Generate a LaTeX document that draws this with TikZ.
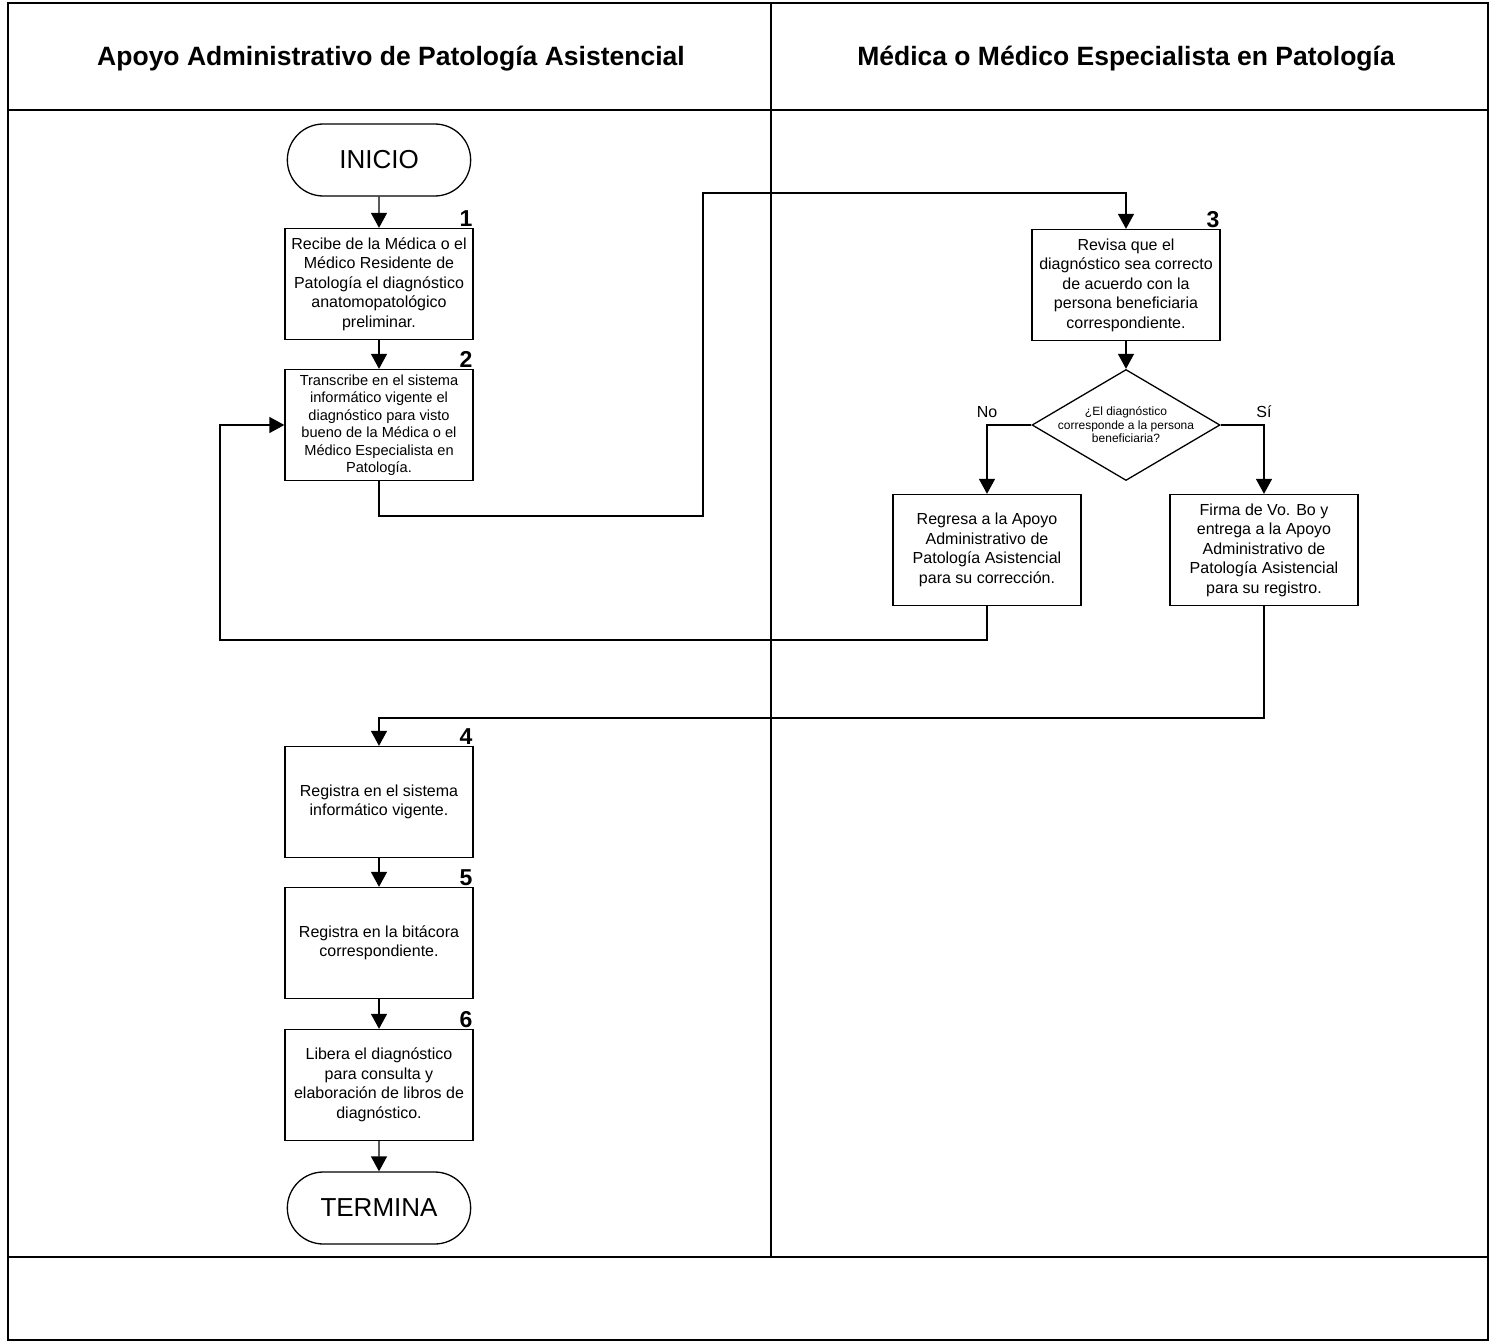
\documentclass[tikz,border=0pt]{standalone}
\usepackage{fontspec}
\setmainfont{Liberation Sans}
\usetikzlibrary{shapes.geometric,shapes.misc,arrows.meta}
\begin{document}
\begin{tikzpicture}[x=1pt,y=-1pt,
  every node/.style={font=\fontsize{16}{19.5}\selectfont},
  frame/.style={line width=2.8pt},
  lane/.style={line width=1.8pt},
  title/.style={font=\fontsize{26.5}{30}\selectfont\bfseries},
  stepbox/.style={draw,line width=1.3pt,minimum width=188pt,minimum height=111pt,
    align=center,inner sep=2pt},
  terminal/.style={draw,line width=1.3pt,rounded rectangle,minimum width=190pt,
    minimum height=72pt,font=\fontsize{26}{30}\selectfont},
  decision/.style={draw,line width=1.3pt,diamond,minimum width=188pt,minimum height=111pt,
    inner sep=0pt},
  num/.style={anchor=south east,inner sep=1pt,font=\fontsize{23}{24}\selectfont\bfseries},
  flow/.style={line width=1.3pt,-{Triangle[length=15pt,width=16pt]}}
]
\useasboundingbox (0,0) rectangle (1494,1344);

% swimlane frame
\draw[frame] (8,3) rectangle (1488,1340);
\draw[frame] (8,110) -- (1488,110);
\draw[frame] (8,1257) -- (1488,1257);
\draw[lane] (771,3) -- (771,1257);
\node[title] (tl) at (391,59) {Apoyo Administrativo de Patología Asistencial};
\node[title] (tr) at (1126,59) {Médica o Médico Especialista en Patología};

% left lane
\node[terminal] (ini) at (379,160) {INICIO};
\node[stepbox] (b1) at (379,284) {Recibe de la Médica o el\\Médico Residente de\\Patología el diagnóstico\\anatomopatológico\\preliminar.};
\node[num] (n1) at (b1.north east) {1};
\node[stepbox,font=\fontsize{14.6}{17.5}\selectfont] (b2) at (379,425) {Transcribe en el sistema\\informático vigente el\\diagnóstico para visto\\bueno de la Médica o el\\Médico Especialista en\\Patología.};
\node[num] (n2) at (b2.north east) {2};

% right lane
\node[stepbox] (b3) at (1126,285) {Revisa que el\\diagnóstico sea correcto\\de acuerdo con la\\persona beneficiaria\\correspondiente.};
\node[num] (n3) at (b3.north east) {3};
\node[decision] (d) at (1126,425) {};
\node[align=center,font=\fontsize{12}{13.5}\selectfont] (dt) at (d.center) {¿El diagnóstico\\corresponde a la persona\\beneficiaria?};
\node (lno) at (987,412) {No};
\node (lsi) at (1264,412) {Sí};
\node[stepbox] (no) at (987,550) {Regresa a la Apoyo\\Administrativo de\\Patología Asistencial\\para su corrección.};
\node[stepbox] (si) at (1264,550) {Firma de Vo. Bo y\\entrega a la Apoyo\\Administrativo de\\Patología Asistencial\\para su registro.};

% left lane, lower part
\node[stepbox] (b4) at (379,802) {Registra en el sistema\\informático vigente.};
\node[num] (n4) at (b4.north east) {4};
\node[stepbox] (b5) at (379,943) {Registra en la bitácora\\correspondiente.};
\node[num] (n5) at (b5.north east) {5};
\node[stepbox] (b6) at (379,1085) {Libera el diagnóstico\\para consulta y\\elaboración de libros de\\diagnóstico.};
\node[num] (n6) at (b6.north east) {6};
\node[terminal] (fin) at (379,1208) {TERMINA};

% connectors
\coordinate (j1) at (703,516);
\coordinate (j2) at (703,193);
\coordinate (j3) at (220,640);
\coordinate (j4) at (1264,718);
\draw[flow] (ini) -- (b1);
\draw[flow] (b1) -- (b2);
\draw[flow] (b2.south) |- (j1) -- (j2) -| (b3.north);
\draw[flow] (b3) -- (d);
\draw[flow] (d.west) -| (no.north);
\draw[flow] (d.east) -| (si.north);
\draw[flow] (no.south) |- (j3) |- (b2.west);
\draw[flow] (si.south) -- (j4) -| (b4.north);
\draw[flow] (b4) -- (b5);
\draw[flow] (b5) -- (b6);
\draw[flow] (b6) -- (fin);
\end{tikzpicture}
\end{document}
